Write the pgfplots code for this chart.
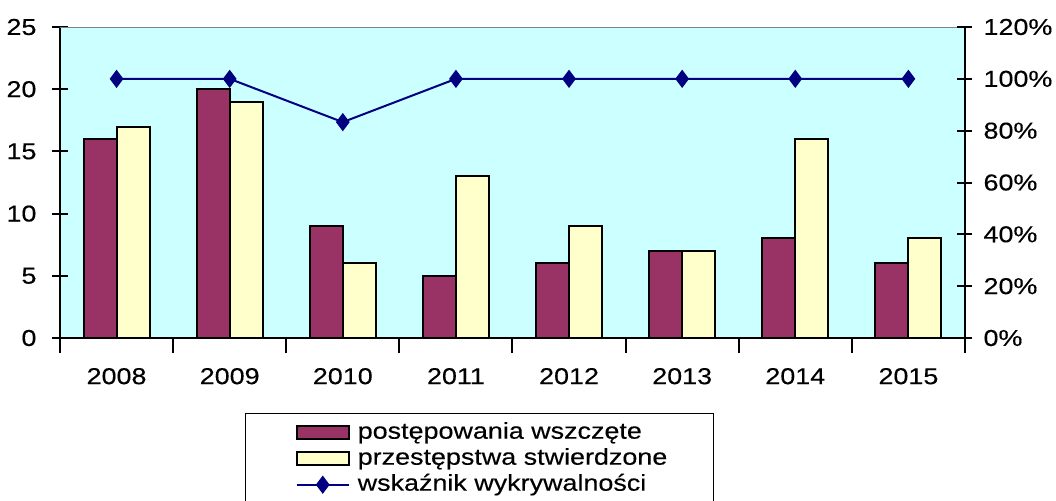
\documentclass[border=0pt]{standalone}
\usepackage{pgfplots}
\pgfplotsset{compat=1.18}
\usepackage{fontspec}
\setmainfont[FakeStretch=1.17, FakeBold=0.3]{Liberation Sans}
\definecolor{barA}{HTML}{993366}
\definecolor{barB}{HTML}{FFFFCC}
\definecolor{bgc}{HTML}{CCFFFF}
\definecolor{lineC}{HTML}{000080}
\pgfplotsset{
  linelegend/.style={legend image code/.code={\path (0pt,0pt) (32pt,0pt); \draw[mark repeat=2, mark phase=2, ##1] plot coordinates {(3pt,0pt) (16pt,0pt) (29pt,0pt)};}},
  common/.style={scale only axis, width=452.5pt, height=155.5pt,
    at={(0,0)}, anchor=south west, xmin=-0.5, xmax=7.5,
    tick align=center, major tick length=7.5pt, minor tick length=7.5pt,
    tick style={black, line width=1pt},
    axis line style={black, line width=1pt, -},
    ticklabel style={font=\fontsize{11.5}{13}\selectfont},
    /pgf/number format/assume math mode=true}
}
\begin{document}
\fontsize{11.5}{13}\selectfont
\begin{tikzpicture}
\path[use as bounding box] (-30pt,-81pt) rectangle (498pt,169pt);
\begin{axis}[common,
  axis background/.style={fill=bgc},
  axis x line*=bottom, axis y line*=left,
  ymin=0, ymax=25, ytick={0,5,...,25},
  yticklabel style={xshift=-4pt},
  xtick={-0.5,0.5,...,7.5}, xticklabels={},
  extra x ticks={0,1,2,3,4,5,6,7},
  extra x tick labels={2008,2009,2010,2011,2012,2013,2014,2015},
  extra x tick style={major tick length=0pt, xticklabel style={yshift=-11pt}},
  ybar=0pt, bar width=16.5pt]
\addplot[fill=barA, draw=black, line width=1pt] coordinates {(0,16) (1,20) (2,9) (3,5) (4,6) (5,7) (6,8) (7,6)};
\addplot[fill=barB, draw=black, line width=1pt] coordinates {(0,17) (1,19) (2,6) (3,13) (4,9) (5,7) (6,16) (7,8)};
\draw[gray, line width=1pt] (rel axis cs:0,1) -- (rel axis cs:1,1);
\end{axis}
\begin{axis}[common,
  axis y line*=right, axis x line=none,
  ymin=0, ymax=120, ytick={0,20,...,120},
  yticklabel={\pgfmathprintnumber{\tick}\%},
  yticklabel style={xshift=1.5pt},
  legend cell align=left,
  legend style={at={(0.2044,-0.241)}, anchor=north west, draw=black, line width=0.75pt,
    fill=white, inner xsep=22pt, inner ysep=3pt, row sep=0pt,
    font=\fontsize{11.5}{13}\selectfont,
    nodes={inner sep=1pt, text height=8.5pt, text depth=2.5pt}}]
\addlegendimage{legend image code/.code={\path (0pt,0pt) (32pt,0pt); \draw[fill=barA, draw=black, line width=1pt] (3pt,-3.25pt) rectangle (29pt,3.25pt);}}
\addlegendentry{postępowania wszczęte}
\addlegendimage{legend image code/.code={\path (0pt,0pt) (32pt,0pt); \draw[fill=barB, draw=black, line width=1pt] (3pt,-3.25pt) rectangle (29pt,3.25pt);}}
\addlegendentry{przestępstwa stwierdzone}
\addplot[lineC, line width=1pt, mark=diamond*, mark size=3.75pt, mark options={fill=lineC}, linelegend]
  coordinates {(0,100) (1,100) (2,83.3) (3,100) (4,100) (5,100) (6,100) (7,100)};
\addlegendentry{wskaźnik wykrywalności}
\end{axis}
\end{tikzpicture}
\end{document}
